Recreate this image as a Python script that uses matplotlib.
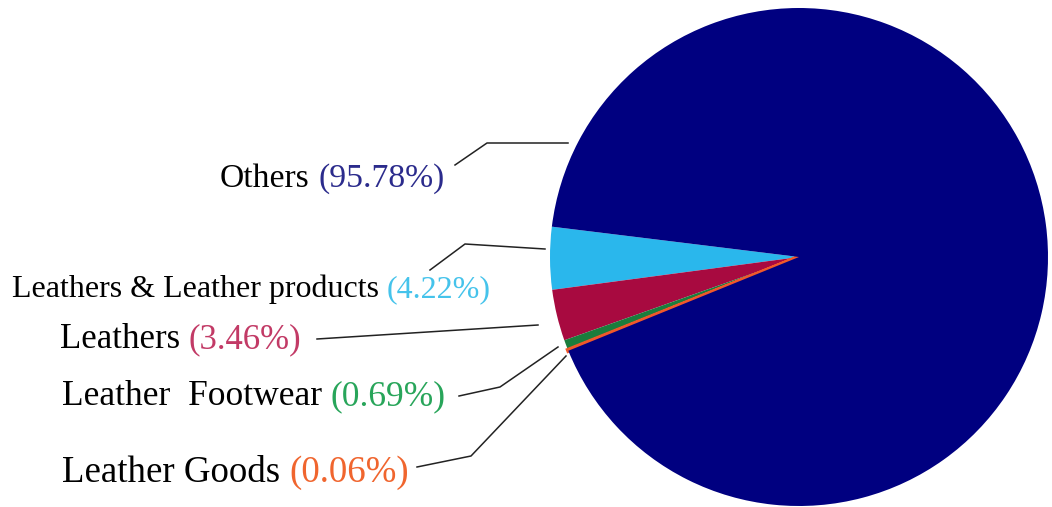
import matplotlib
matplotlib.use('Agg')
import matplotlib.pyplot as plt

# Share of exports by product group
labels = ['Leathers & Leather products', 'Leathers', 'Leather  Footwear', 'Leather Goods', 'Others']
shares = [4.22, 3.46, 0.69, 0.06, 95.78]
wedge_colors = ['#2AB7EC', '#A80A40', '#1B7D3C', '#F0582A', '#000080']
pct_colors = ['#45C3EB', '#C23A66', '#28A55A', '#F0652E', '#2B2B8C']

# label layout in pixel space (x, baseline y, font size) and leader paths
label_pos = {
    'Others': (220, 187, 24.2),
    'Leathers & Leather products': (12, 297, 23),
    'Leathers': (60, 348, 25),
    'Leather  Footwear': (62, 405, 25.5),
    'Leather Goods': (62, 482, 26.6),
}
leaders = {
    'Others': [(455, 165), (487, 143), (568, 143)],
    'Leathers & Leather products': [(430, 270), (465, 244), (545, 249)],
    'Leathers': [(317, 339), (538, 325)],
    'Leather  Footwear': [(459, 396), (500, 387), (558, 347)],
    'Leather Goods': [(417, 467), (471, 456), (566, 356)],
}

W, H = 1052, 507
fig = plt.figure(figsize=(W / 100, H / 100), dpi=100)
fig.patch.set_facecolor('white')

# pie centred at (799, 257) px with radius 249 px
cx, cy, r = 799, 257, 249
ax = fig.add_axes([(cx - r) / W, (H - cy - r) / H, 2 * r / W, 2 * r / H])
wedges, _ = ax.pie(shares, colors=wedge_colors, startangle=173, counterclock=True,
                   radius=1.0, wedgeprops={'linewidth': 0})
# the tiny slice gets an outline so it stays visible
wedges[3].set_edgecolor(wedge_colors[3])
wedges[3].set_linewidth(3.0)
ax.set_xlim(-1, 1)
ax.set_ylim(-1, 1)
ax.set_aspect('equal')
ax.axis('off')

# overlay for labels and leader lines, in pixel coordinates
ov = fig.add_axes([0, 0, 1, 1], zorder=5)
ov.set_xlim(0, W)
ov.set_ylim(H, 0)
ov.axis('off')
ov.patch.set_alpha(0)

serif = 'Liberation Serif'
for name, share, pcol in zip(labels, shares, pct_colors):
    x, y, fs = label_pos[name]
    t = ov.text(x, y, name, fontsize=fs, family=serif, color='black',
                ha='left', va='baseline')
    ov.annotate(f'({share:.2f}%)', xy=(1, 0), xycoords=t, xytext=(fs * 0.25, 0),
                textcoords='offset points', fontsize=fs, family=serif,
                color=pcol, ha='left', va='bottom')
    xs, ys = zip(*leaders[name])
    ov.plot(xs, ys, color='#222222', linewidth=1.1)

fig.savefig('out.png', dpi=100, facecolor='white')
